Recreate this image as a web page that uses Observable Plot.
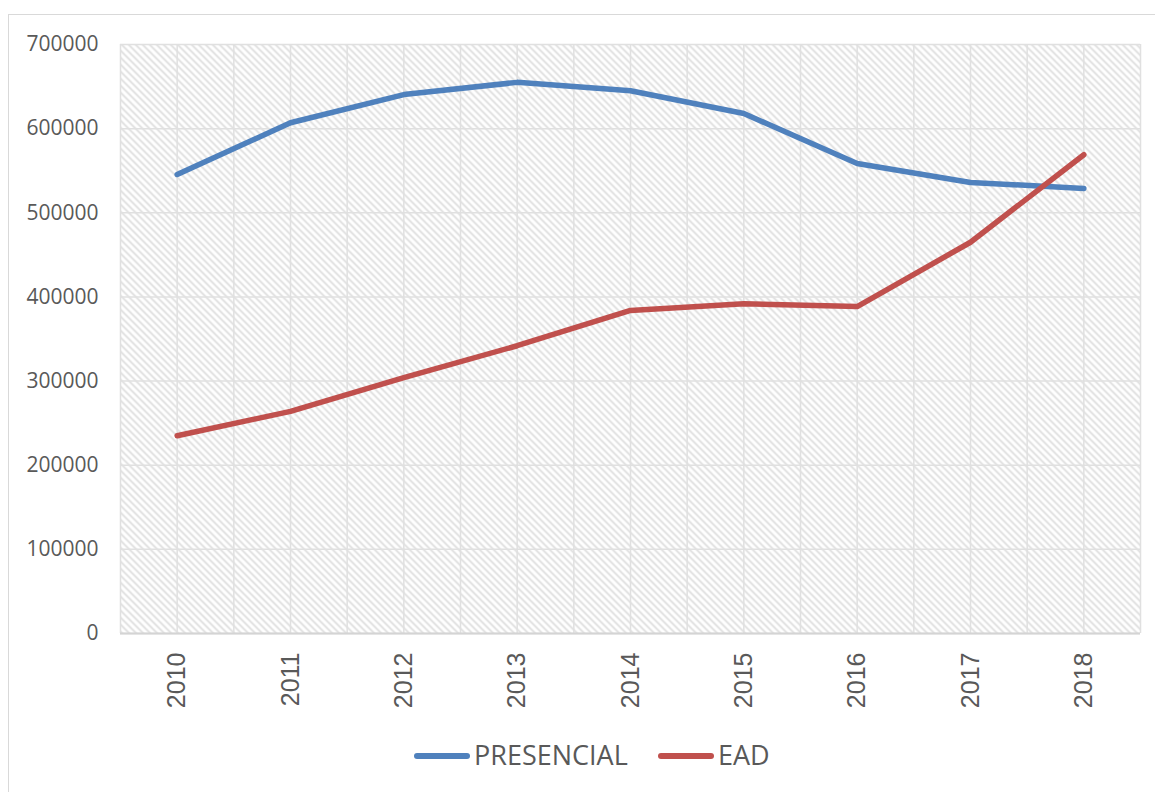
<!DOCTYPE html>
<html><head><meta charset="utf-8">
<script src="https://cdn.jsdelivr.net/npm/d3@7"></script>
<script src="https://cdn.jsdelivr.net/npm/@observablehq/plot@0.6"></script>
<style>
body{margin:0;background:#fff;width:1155px;height:792px;overflow:hidden;position:relative;}
#frame{position:absolute;left:8px;top:14px;width:1170px;height:800px;border:1.5px solid #d9d9d9;box-sizing:border-box;}
#chart{position:absolute;left:0;top:0;}
.leg-line{position:absolute;height:6px;border-radius:3px;}
.leg-text{position:absolute;font-family:"Open Sans",sans-serif;font-size:27px;color:#595959;line-height:30px;}
</style>
</head><body>
<div id="frame"></div>
<div id="chart"></div>
<div id="legend"></div>
<script>
const years = [2010, 2011, 2012, 2013, 2014, 2015, 2016, 2017, 2018];
const presencial = [545500, 607000, 640500, 655000, 645000, 618000, 558500, 536000, 529000];
const ead = [235000, 264000, 304000, 342000, 384000, 392000, 388500, 465000, 569000];
const yTicks = [0, 100000, 200000, 300000, 400000, 500000, 600000, 700000];
const seriesNames = ["PRESENCIAL", "EAD"];
const seriesColors = ["#4f81bd", "#c0504d"];

const rows = [];
years.forEach((yr, i) => {
  rows.push({year: yr, value: presencial[i], series: seriesNames[0]});
  rows.push({year: yr, value: ead[i], series: seriesNames[1]});
});
const gridX = years.flatMap(y => [y - 0.5, y]).concat([years[years.length - 1] + 0.5]);

const chart = Plot.plot({
  width: 1155,
  height: 718,
  marginLeft: 120,
  marginRight: 15,
  marginTop: 44,
  marginBottom: 85,
  style: {background: "transparent", color: "#595959"},
  x: {domain: [years[0] - 0.5, years[years.length - 1] + 0.5]},
  y: {domain: [0, 700000]},
  color: {domain: seriesNames, range: seriesColors},
  marks: [
    Plot.frame({fill: "url(#hatch)", stroke: null}),
    Plot.ruleY(yTicks, {stroke: "#e0e0e0", strokeWidth: 1.5}),
    Plot.ruleX(gridX, {stroke: "#e0e0e0", strokeWidth: 1.5}),
    Plot.ruleY([0], {stroke: "#d4d4d4", strokeWidth: 2}),
    Plot.axisY({ticks: yTicks, tickFormat: d => String(d), tickSize: 0, tickPadding: 22, fontSize: 21, fontFamily: "Open Sans", label: null}),
    Plot.axisX({ticks: years, tickFormat: d => String(d), tickRotate: -90, tickSize: 0, tickPadding: 19, fontSize: 25, fontFamily: "Liberation Sans", label: null}),
    Plot.line(rows, {x: "year", y: "value", z: "series", stroke: "series", strokeWidth: 5.5, strokeLinecap: "round", strokeLinejoin: "round"})
  ]
});

const svg = d3.select(chart.tagName === "svg" ? chart : chart.querySelector("svg"));
const defs = svg.insert("defs", ":first-child");
const pat = defs.append("pattern").attr("id", "hatch").attr("patternUnits", "userSpaceOnUse")
  .attr("width", 7).attr("height", 7);
pat.append("rect").attr("width", 7).attr("height", 7).attr("fill", "#ffffff");
pat.append("path").attr("d", "M-1,-1 L8,8 M-1,6 L1,8 M6,-1 L8,1")
  .attr("stroke", "#dedede").attr("stroke-width", 1.8);
document.getElementById("chart").appendChild(chart);

const legend = document.getElementById("legend");
const legPos = [{line: 414, text: 474}, {line: 658, text: 718}];
seriesNames.forEach((name, i) => {
  const l = document.createElement("div");
  l.className = "leg-line";
  l.style.left = legPos[i].line + "px";
  l.style.width = "56px";
  l.style.top = "753px";
  l.style.background = seriesColors[i];
  legend.appendChild(l);
  const t = document.createElement("div");
  t.className = "leg-text";
  t.style.left = legPos[i].text + "px";
  t.style.top = "740px";
  t.textContent = name;
  legend.appendChild(t);
});
</script>
</body></html>
